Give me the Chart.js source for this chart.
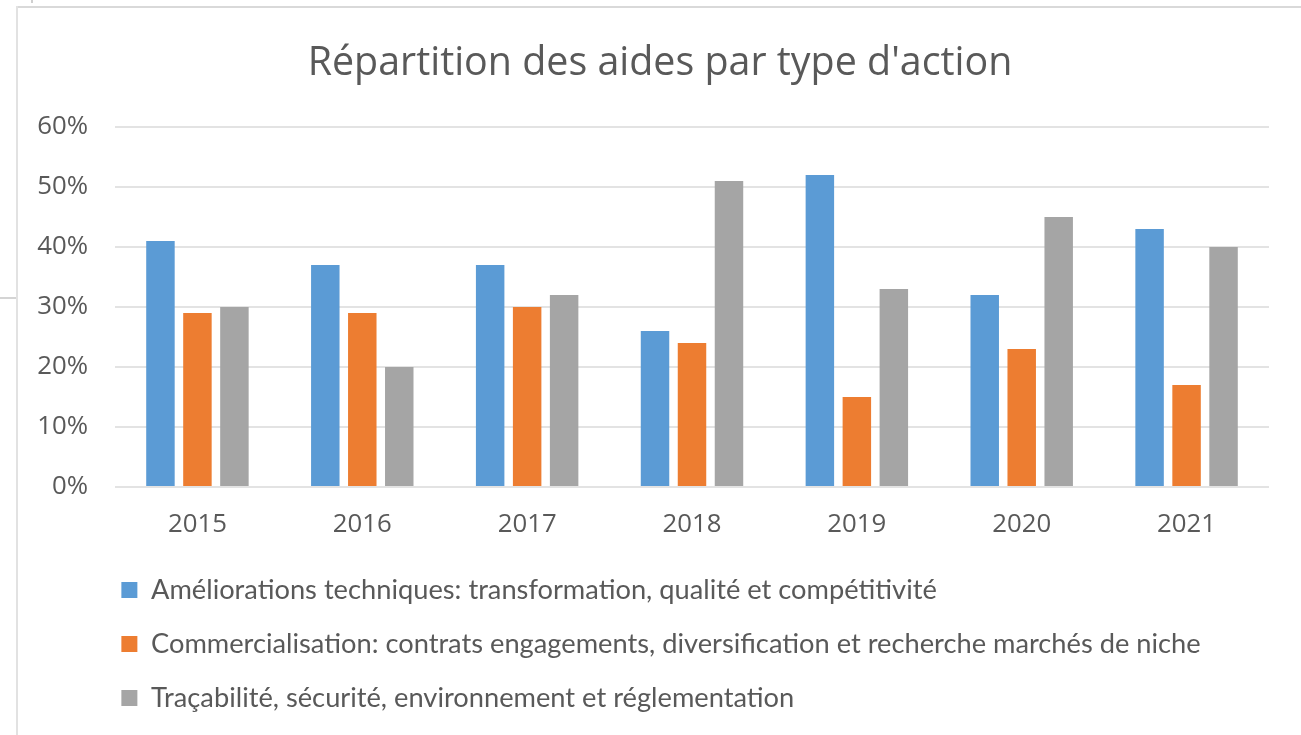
<!DOCTYPE html>
<html><head><meta charset="utf-8">
<script src="https://cdn.jsdelivr.net/npm/chart.js@4.4.1/dist/chart.umd.min.js"></script>
<style>
html,body{margin:0;padding:0;background:#fff;overflow:hidden;width:1301px;height:735px;}
#wrap{position:absolute;left:18px;top:8px;width:1284px;height:727px;}
.ln{position:absolute;}
</style></head><body>
<div class="ln" style="left:16px;top:6px;width:1290px;height:2px;background:#d9d9d9"></div>
<div class="ln" style="left:16px;top:6px;width:2px;height:730px;background:#e2e2e2"></div>
<div class="ln" style="left:31px;top:0;width:2px;height:3px;background:#cfcfcf"></div>
<div class="ln" style="left:0;top:297px;width:16px;height:2px;background:#d4d4d4"></div>
<div id="wrap"><canvas id="c" width="1284" height="727"></canvas></div>
<script>
// ---- data ----
const years = ['2015', '2016', '2017', '2018', '2019', '2020', '2021'];
const ameliorations = [41, 37, 37, 26, 52, 32, 43];
const commercialisation = [29, 29, 30, 24, 15, 23, 17];
const tracabilite = [30, 20, 32, 51, 33, 45, 40];
const seriesLabels = [
  'Améliorations techniques: transformation, qualité et compétitivité',
  'Commercialisation: contrats engagements, diversification et recherche marchés de niche',
  'Traçabilité, sécurité, environnement et réglementation'
];
const yTicks = [0, 10, 20, 30, 40, 50, 60];
const titleText = "Répartition des aides par type d'action";

// ---- font fitting ----
const mctx = document.createElement('canvas').getContext('2d');
function fitSize(text, family, target) {
  mctx.font = '400 100px ' + family;
  return 100 * target / mctx.measureText(text).width;
}
const TXT = '#595959';
const titleFamily = "'Open Sans', 'Noto Sans', sans-serif";
const axisFamily = "'Open Sans', 'Noto Sans', sans-serif";
const legendFamily = "Lato, 'Noto Sans', sans-serif";
const titleSize = fitSize(titleText, titleFamily, 705);
const axisSize = fitSize('2015', axisFamily, 59);
const legendSize = fitSize(seriesLabels[0], legendFamily, 786);

const H = 727;
const areaTop = 119, areaBottom = 479, areaLeft = 97, areaRight = 1251;
const rowStep = 54;
const legendPad = rowStep - legendSize;
const legendTop = 582 - legendPad - legendSize / 2;
const legendH = 3 * rowStep + 10;
const padBottom = H - legendTop - legendH;
const xAxisH = legendTop - areaBottom;
const titlePadTop = 56 - 0.6 * titleSize;
const titlePadBottom = areaTop - titlePadTop - 1.2 * titleSize;
const boxW = 16;
const legendTextX = 133;

const blockShift = {
  id: 'blockShift',
  afterLayout(chart) {
    const lg = chart.legend;
    if (lg) lg.left = legendTextX - boxW - legendSize / 2 - legendPad;
    const tb = chart.titleBlock;
    if (tb) { tb.left = 33; tb.right = areaRight; }
  }
};

new Chart(document.getElementById('c'), {
  type: 'bar',
  data: {
    labels: years,
    datasets: [
      { label: seriesLabels[0], data: ameliorations, backgroundColor: '#5B9BD5' },
      { label: seriesLabels[1], data: commercialisation, backgroundColor: '#ED7D31' },
      { label: seriesLabels[2], data: tracabilite, backgroundColor: '#A5A5A5' }
    ]
  },
  options: {
    responsive: false,
    animation: false,
    layout: { padding: { top: 0, left: 0, right: 1284 - areaRight, bottom: padBottom } },
    datasets: { bar: { categoryPercentage: 0.673, barPercentage: 0.77 } },
    plugins: {
      title: {
        display: true, text: titleText, color: TXT,
        font: { family: titleFamily, size: titleSize, weight: '400' },
        padding: { top: titlePadTop, bottom: titlePadBottom }
      },
      legend: {
        position: 'bottom', align: 'start',
        labels: {
          color: TXT, boxWidth: boxW, boxHeight: boxW, padding: legendPad,
          font: { family: legendFamily, size: legendSize }
        }
      },
      tooltip: { enabled: false }
    },
    scales: {
      x: {
        grid: { display: false, drawTicks: false },
        border: { display: false },
        ticks: { color: TXT, font: { family: axisFamily, size: axisSize }, padding: 517 - areaBottom - 0.6 * axisSize, maxRotation: 0 },
        afterFit(s) { s.height = xAxisH; }
      },
      y: {
        min: 0, max: 60,
        grid: { color: '#e3e3e3', lineWidth: 2, drawTicks: false },
        border: { display: false },
        afterBuildTicks(s) { s.ticks = yTicks.map(v => ({ value: v })); },
        ticks: { color: TXT, font: { family: axisFamily, size: axisSize }, padding: 27, callback: v => v + '%' },
        afterFit(s) { s.width = areaLeft; }
      }
    }
  },
  plugins: [blockShift]
});
</script>
</body></html>
